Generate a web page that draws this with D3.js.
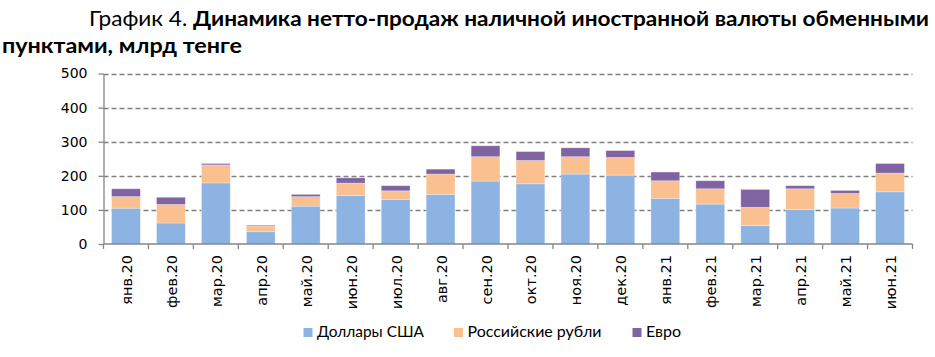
<!DOCTYPE html>
<html><head><meta charset="utf-8">
<script src="https://cdn.jsdelivr.net/npm/d3@7"></script>
<style>body{margin:0;background:#fff}svg{display:block}</style>
</head><body>
<script>
const categories = ["янв.20","фев.20","мар.20","апр.20","май.20","июн.20","июл.20","авг.20","сен.20","окт.20","ноя.20","дек.20","янв.21","фев.21","мар.21","апр.21","май.21","июн.21"];
const usd = [105,61.5,179,36,111,142.5,131,145.5,184.5,176.5,205,202,134,117,54,101.5,105.5,153];
const rub = [34,54.5,53,16.5,28,36,25,59.5,71.5,68.5,51,52,51.5,45,53.5,60.5,43,55];
const eur = [23,21,4,2.5,6.5,15.5,15,14.5,32,26,26,20,25.5,23.5,52.5,9,8.5,28];
const seriesNames = ["Доллары США","Российские рубли","Евро"];
const colors = ["#8DB3E2","#FAC090","#8064A2"];
const yTicks = [0,100,200,300,400,500];

const W=935,H=357;
const svg=d3.select("body").append("svg").attr("width",W).attr("height",H);
const mLeft=103.5,mRight=912.5,mTop=73.5,mBottom=244;
const x=d3.scaleBand().domain(categories).range([mLeft,mRight]).paddingInner(0.36).paddingOuter(0.18);
const y=d3.scaleLinear().domain([0,500]).range([mBottom,mTop]);
const titleFont="Lato, 'Open Sans', sans-serif";

// title
const t=svg.append("text").attr("x",89).attr("y",26).attr("font-family",titleFont).attr("font-size",21.5).attr("fill","#000")
  .attr("textLength",840).attr("lengthAdjust","spacingAndGlyphs");
t.append("tspan").text("График 4. ");
t.append("tspan").attr("font-weight","bold").text("Динамика нетто-продаж наличной иностранной валюты обменными");
svg.append("text").attr("x",2).attr("y",53).attr("font-family",titleFont).attr("font-size",21.5).attr("font-weight","bold")
  .attr("textLength",240).attr("lengthAdjust","spacingAndGlyphs").text("пунктами, млрд тенге");

// grid
svg.append("g").selectAll("line").data(yTicks.filter(d=>d>0)).join("line")
  .attr("x1",mLeft).attr("x2",mRight).attr("y1",d=>Math.round(y(d))+0.5).attr("y2",d=>Math.round(y(d))+0.5)
  .attr("stroke","#808080").attr("stroke-width",1.3).attr("stroke-dasharray","5,3");

// bars
const data=categories.map((c,i)=>({c,usd:usd[i],rub:rub[i],eur:eur[i]}));
const stack=d3.stack().keys(["usd","rub","eur"])(data);
svg.append("g").selectAll("g").data(stack).join("g").attr("fill",(d,i)=>colors[i])
  .selectAll("rect").data(d=>d).join("rect")
  .attr("x",d=>x(d.data.c)).attr("width",x.bandwidth())
  .attr("y",d=>y(d[1])).attr("height",d=>y(d[0])-y(d[1]))
  .attr("stroke","rgba(255,255,255,0.35)").attr("stroke-width",0.8);

// y axis
const ya=svg.append("g").attr("transform",`translate(${mLeft},0)`)
  .call(d3.axisLeft(y).tickValues(yTicks).tickSize(5).tickSizeOuter(0).tickPadding(11));
ya.select(".domain").attr("stroke","#868686").attr("stroke-width",1.3);
ya.selectAll(".tick line").attr("stroke","#868686").attr("stroke-width",1.3);
ya.selectAll("text").attr("font-family","DejaVu Sans, Verdana, sans-serif").attr("font-size",14).attr("fill","#000");

// x axis
const xa=svg.append("g").attr("transform",`translate(0,${mBottom})`);
xa.append("line").attr("x1",mLeft).attr("x2",mRight).attr("y1",0).attr("y2",0).attr("stroke","#868686").attr("stroke-width",1.3);
const step=(mRight-mLeft)/categories.length;
xa.selectAll("line.tk").data(d3.range(categories.length+1)).join("line").attr("class","tk")
  .attr("x1",i=>mLeft+i*step).attr("x2",i=>mLeft+i*step).attr("y1",0).attr("y2",5).attr("stroke","#868686").attr("stroke-width",1.3);
xa.selectAll("text").data(categories).join("text")
  .attr("transform",d=>`translate(${x(d)+x.bandwidth()/2+6},${11}) rotate(-90)`)
  .attr("text-anchor","end").attr("font-family","DejaVu Sans, Verdana, sans-serif").attr("font-size",14.5).attr("fill","#000").text(d=>d);

// legend
const legX=[303.5,454,632.5];
const legW=[107,134,35];
const lg=svg.append("g");
seriesNames.forEach((n,i)=>{
  lg.append("rect").attr("x",legX[i]).attr("y",328).attr("width",9).attr("height",9).attr("fill",colors[i]);
  lg.append("text").attr("x",legX[i]+13.5).attr("y",337).attr("font-family",titleFont).attr("font-size",16).attr("fill","#000")
    .attr("textLength",legW[i]).attr("lengthAdjust","spacingAndGlyphs").text(n);
});
</script>
</body></html>
